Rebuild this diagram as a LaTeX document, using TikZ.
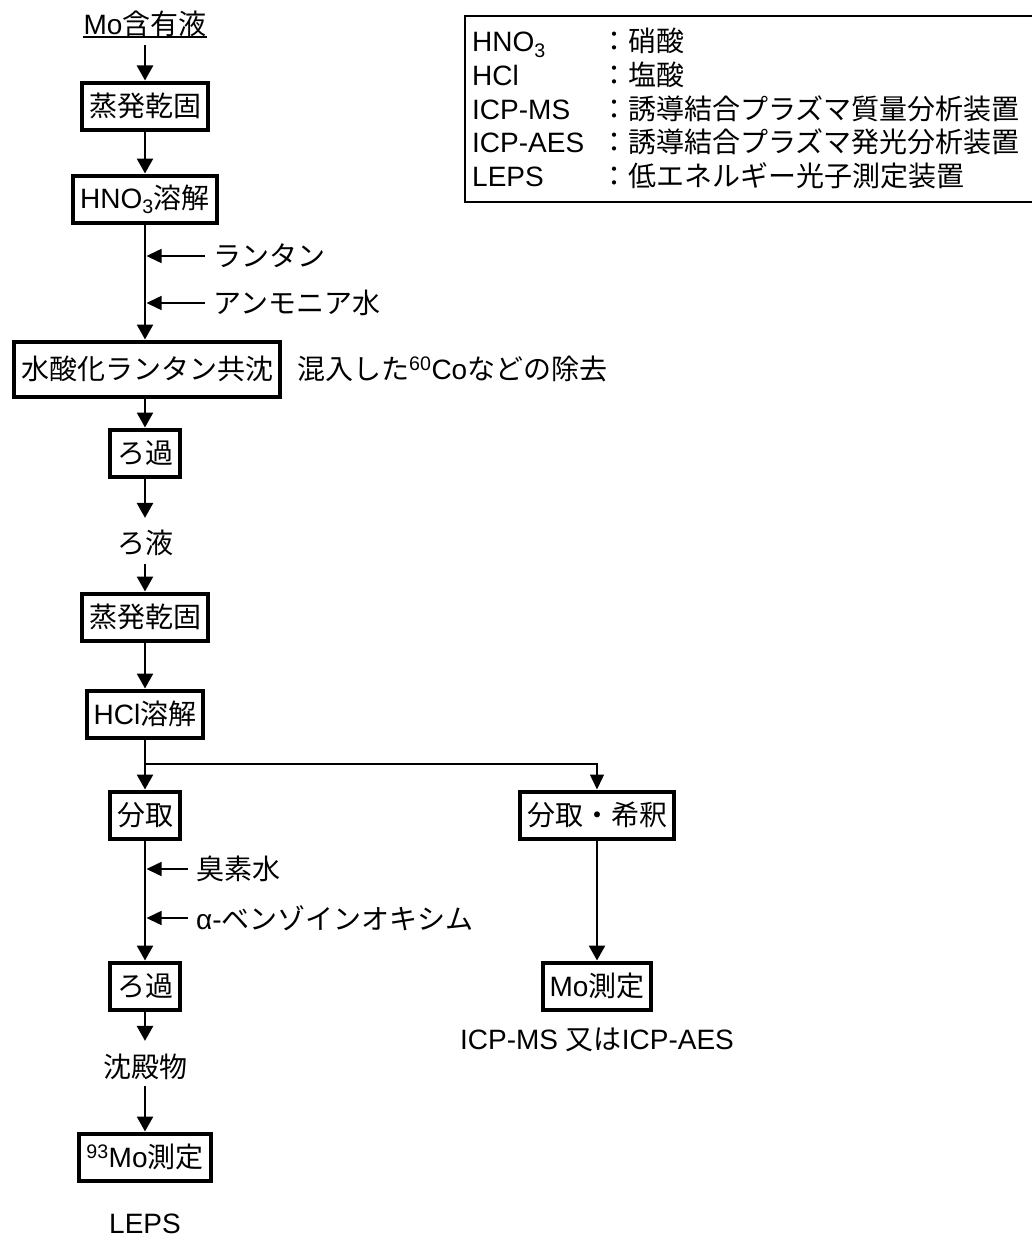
\documentclass[tikz,border=0pt]{standalone}
\usepackage{fontspec}
\setmainfont{Liberation Sans}
\newfontfamily\cjk{Noto Sans CJK JP}
\newcommand{\jp}[1]{{\cjk #1}}
\usetikzlibrary{arrows.meta}
\begin{document}
\begin{tikzpicture}[x=1pt,y=-1pt, font=\fontsize{28}{33.6}\selectfont,
  pbox/.style={draw, line width=4pt, inner xsep=7pt, inner ysep=0pt, minimum height=47pt},
  plain/.style={inner sep=0pt},
  flow/.style={line width=2.6pt, -{Triangle[width=16pt,length=15pt]}},
  side/.style={line width=1.5pt, -{Triangle[width=14pt,length=15pt]}},
  branch/.style={line width=1.3pt, -{Triangle[width=14pt,length=15pt]}},
  legtext/.style={inner sep=0pt, anchor=base west},
]
\useasboundingbox (0,0) rectangle (1032,1239);
\fill[white] (0,0) rectangle (1032,1239);

% legend
\draw[line width=1.5pt] (465,16) rectangle (1045,202);
\node[legtext] (l1a) at (472,52) {HNO\textsubscript{3}};
\node[legtext] (l1b) at (600,52) {\jp{：硝酸}};
\node[legtext] (l2a) at (472,85.5) {HCl};
\node[legtext] (l2b) at (600,85.5) {\jp{：塩酸}};
\node[legtext] (l3a) at (472,119) {ICP-MS};
\node[legtext] (l3b) at (600,119) {\jp{：誘導結合プラズマ質量分析装置}};
\node[legtext] (l4a) at (472,152.5) {ICP-AES};
\node[legtext] (l4b) at (600,152.5) {\jp{：誘導結合プラズマ発光分析装置}};
\node[legtext] (l5a) at (472,186) {LEPS};
\node[legtext] (l5b) at (600,186) {\jp{：低エネルギー光子測定装置}};

% main column
\node[plain] (src) at (145,24) {Mo\jp{含有液}};
\draw[line width=1.5pt] (src.south west) -- (src.south east);
\node[pbox] (b1) at (145,106) {\jp{蒸発乾固}};
\node[pbox] (b2) at (145,199) {HNO\textsubscript{3}\jp{溶解}};
\node[pbox, minimum height=55pt] (b3) at (147,369) {\jp{水酸化ランタン共沈}};
\node[plain, anchor=west] (note) at (297,369) {\jp{混入した}\textsuperscript{60}Co\jp{などの除去}};
\node[pbox] (b4) at (145,453) {\jp{ろ過}};
\node[plain] (filt) at (145,543) {\jp{ろ液}};
\node[pbox] (b5) at (145,617) {\jp{蒸発乾固}};
\node[pbox] (b6) at (145,714) {HCl\jp{溶解}};
\node[pbox] (b7) at (145,815) {\jp{分取}};
\node[pbox] (b8) at (145,986) {\jp{ろ過}};
\node[plain] (ppt) at (145,1067) {\jp{沈殿物}};
\node[pbox] (b9) at (145,1157) {\textsuperscript{93}Mo\jp{測定}};
\node[plain, anchor=base] (leps) at (145,1233) {LEPS};

% right column
\node[pbox] (r1) at (597,815) {\jp{分取・希釈}};
\node[pbox] (r2) at (597,986) {Mo\jp{測定}};
\node[plain] (icp) at (597,1040) {ICP-MS \jp{又は}ICP-AES};

% reagent labels
\node[plain, anchor=west] (t1) at (213,256) {\jp{ランタン}};
\node[plain, anchor=west] (t2) at (213,303) {\jp{アンモニア水}};
\node[plain, anchor=west] (t3) at (196,869) {\jp{臭素水}};
\node[plain, anchor=west] (t4) at (196,918) {α-\jp{ベンゾインオキシム}};

% flow arrows
\draw[flow] ([yshift=-8pt]src.south) -- (b1.north);
\draw[flow] (b1.south) -- (b2.north);
\draw[flow] (b2.south) -- (b2.south |- b3.north);
\draw[flow] (b2.south |- b3.south) -- (b4.north);
\draw[flow] (b4.south) -- ([yshift=12pt]filt.north);
\draw[flow] ([yshift=-8pt]filt.south) -- (b5.north);
\draw[flow] (b5.south) -- (b6.north);
\draw[flow] (b6.south) -- (b7.north);
\draw[flow] (b7.south) -- (b8.north);
\draw[flow] (b8.south) -- ([yshift=13pt]ppt.north);
\draw[flow] ([yshift=-6pt]ppt.south) -- (b9.north);
\draw[flow] (r1.south) -- (r2.north);

% branch
\coordinate (bj) at (145,764);
\draw[branch] (bj) -| (r1.north);

% side arrows
\draw[side] ([xshift=-8pt]t1.west) -- (146.5,256);
\draw[side] ([xshift=-8pt]t2.west) -- (146.5,303);
\draw[side] ([xshift=-8pt]t3.west) -- (146.5,869);
\draw[side] ([xshift=-8pt]t4.west) -- (146.5,918);
\end{tikzpicture}
\end{document}
